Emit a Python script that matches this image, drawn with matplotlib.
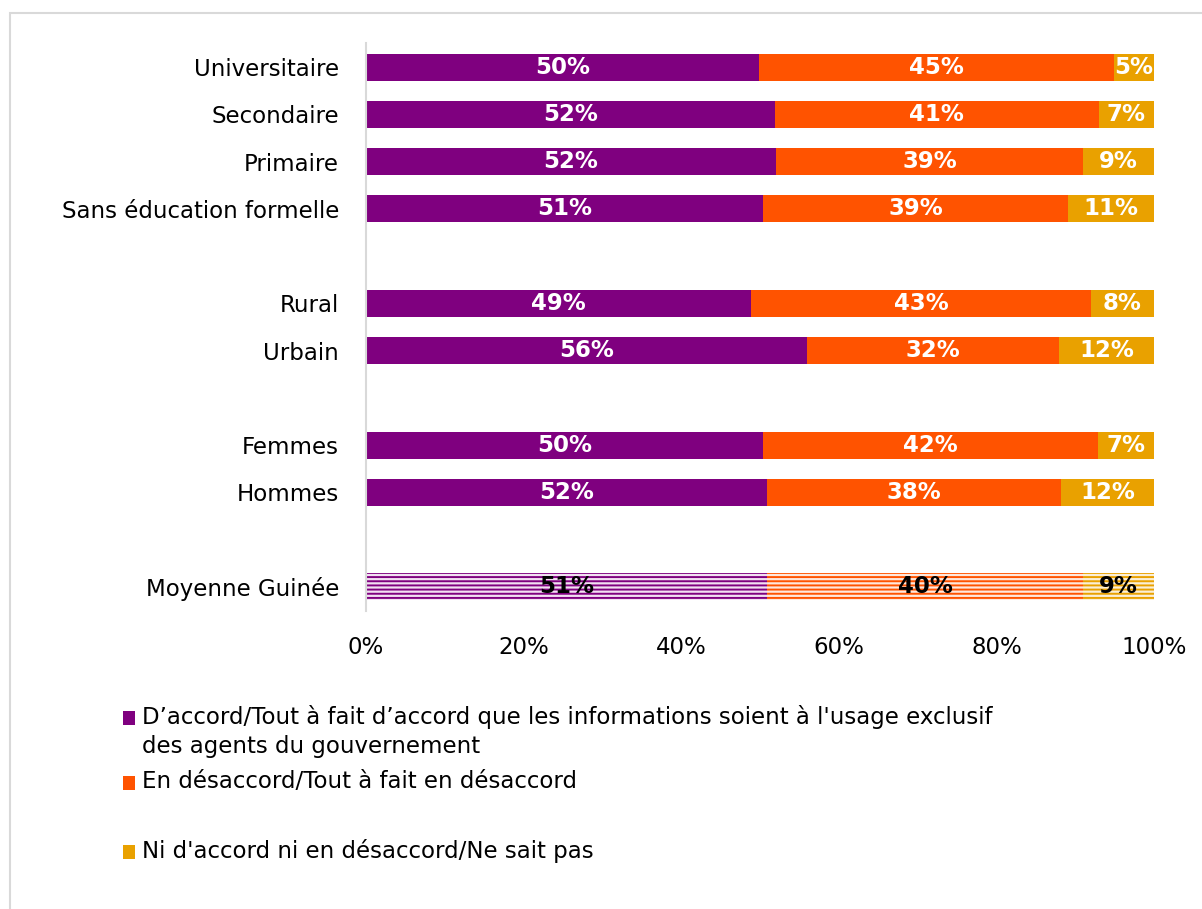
import matplotlib
matplotlib.use("Agg")
import matplotlib.pyplot as plt
from matplotlib.patches import Rectangle
import numpy as np

categories = ["Universitaire", "Secondaire", "Primaire", "Sans éducation formelle",
              "Rural", "Urbain", "Femmes", "Hommes", "Moyenne Guinée"]
positions = [0, 1, 2, 3, 5, 6, 8, 9, 11]

agree = [49.9, 51.9, 52.0, 50.4, 48.9, 56.0, 50.4, 50.9, 50.9]
disagree = [45.0, 41.1, 39.0, 38.7, 43.1, 31.9, 42.5, 37.3, 40.1]
neutral = [5.1, 7.0, 9.0, 10.9, 8.0, 12.1, 7.1, 11.8, 9.0]

agree_lbl = ["50%", "52%", "52%", "51%", "49%", "56%", "50%", "52%", "51%"]
disagree_lbl = ["45%", "41%", "39%", "39%", "43%", "32%", "42%", "38%", "40%"]
neutral_lbl = ["5%", "7%", "9%", "11%", "8%", "12%", "7%", "12%", "9%"]

series_names = ["D\u2019accord/Tout à fait d\u2019accord que les informations soient à l'usage exclusif\ndes agents du gouvernement",
                "En désaccord/Tout à fait en désaccord",
                "Ni d'accord ni en désaccord/Ne sait pas"]
colors = ["#7F007F", "#FF5300", "#E9A100"]
light = ["#F2E0F2", "#FFE8DC", "#FBEFD6"]

xticks = [0, 20, 40, 60, 80, 100]
xtick_labels = ["0%", "20%", "40%", "60%", "80%", "100%"]

plt.rcParams["font.family"] = ["DejaVu Sans"]
plt.rcParams["hatch.linewidth"] = 1.4

W, H = 1202, 909
fig = plt.figure(figsize=(W / 100, H / 100), dpi=100)
fig.patches.append(Rectangle((10 / W, -0.1), 1.2, 1 - 13 / H + 0.1, transform=fig.transFigure,
                             fill=False, edgecolor="#D9D9D9", linewidth=1.5))

ax = fig.add_axes([366 / W, 1 - 610.6 / H, 788 / W, (610.6 - 43.4) / H])
ax.set_xlim(0, 100)
ax.set_ylim(11.5, -0.5)

vals = [agree, disagree, neutral]
lbls = [agree_lbl, disagree_lbl, neutral_lbl]
n = len(categories)
left = np.zeros(n)
bh = 0.57
for s in range(3):
    v = np.array(vals[s])
    for i in range(n):
        avg = categories[i] == "Moyenne Guinée"
        if avg:
            ax.barh(positions[i], v[i], left=left[i], height=bh, color=light[s],
                    edgecolor=colors[s], hatch="----", linewidth=0)
        else:
            ax.barh(positions[i], v[i], left=left[i], height=bh, color=colors[s], linewidth=0)
        ax.text(left[i] + v[i] / 2, positions[i], lbls[s][i], ha="center", va="center",
                fontsize=16.5, fontweight="bold", color="black" if avg else "white")
    left += v

ax.set_yticks(positions)
ax.set_yticklabels(categories, fontsize=16.5)
ax.set_xticks(xticks)
ax.set_xticklabels(xtick_labels, fontsize=16.5)
ax.tick_params(axis="both", length=0)
ax.tick_params(axis="y", pad=19.5)
ax.tick_params(axis="x", pad=18)
for sp in ["top", "right", "bottom"]:
    ax.spines[sp].set_visible(False)
ax.spines["left"].set_color("#D9D9D9")
ax.spines["left"].set_linewidth(1.5)

# legend
leg_y = [718, 783, 852]
for s in range(3):
    fig.patches.append(Rectangle((123 / W, 1 - (leg_y[s] + 7) / H), 12 / W, 14 / H,
                                 transform=fig.transFigure, color=colors[s], linewidth=0))
    fig.text(142 / W, 1 - (leg_y[s] - 13) / H, series_names[s], fontsize=16.5,
             va="top", ha="left", linespacing=1.35)

fig.savefig("out.png", dpi=100)
